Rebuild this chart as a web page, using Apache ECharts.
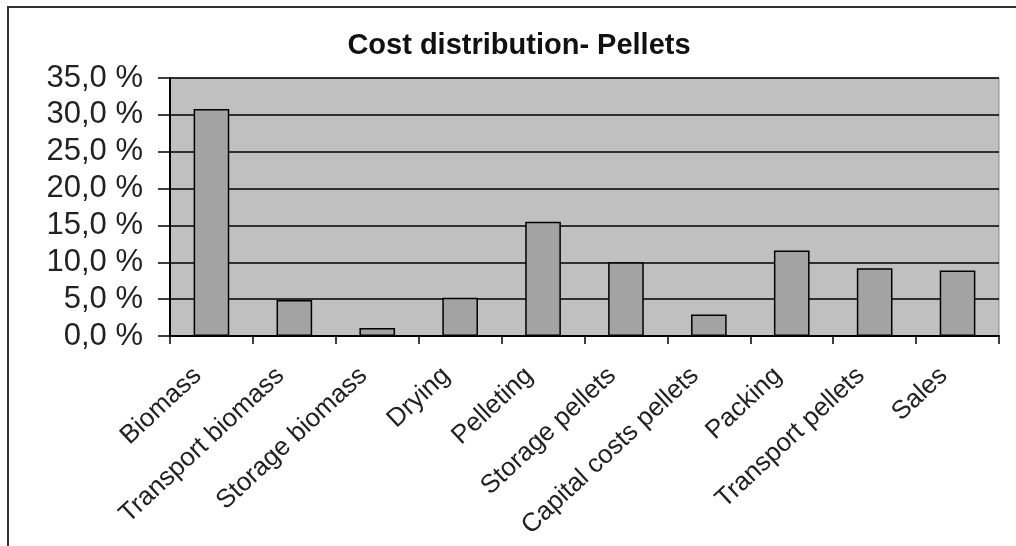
<!DOCTYPE html>
<html>
<head>
<meta charset="utf-8">
<script src="https://cdn.jsdelivr.net/npm/echarts@6/dist/echarts.min.js"></script>
<style>
  html, body { margin: 0; padding: 0; background: #fff; }
  #chart { width: 1016px; height: 546px; }
</style>
</head>
<body>
<div id="chart"></div>
<script>
// Cost shares of the pellet production chain (percent)
const categories = [
  'Biomass', 'Transport biomass', 'Storage biomass', 'Drying', 'Pelleting',
  'Storage pellets', 'Capital costs pellets', 'Packing', 'Transport pellets', 'Sales'
];
const costShare = [30.8, 4.9, 1.1, 5.2, 15.5, 10.0, 2.9, 11.6, 9.2, 8.9];
const yTicks = { min: 0, max: 35, interval: 5 };
const titleText = 'Cost distribution- Pellets';

const chart = echarts.init(document.getElementById('chart'), null, { renderer: 'canvas' });

const fmtPercent = v => v.toFixed(1).replace('.', ',') + ' %';

chart.setOption({
  animation: false,
  backgroundColor: '#ffffff',
  title: {
    text: titleText,
    left: 514,
    top: 26,
    textAlign: 'center',
    textStyle: {
      fontFamily: 'Liberation Sans',
      fontWeight: 'bold',
      fontSize: 29,
      color: '#111'
    }
  },
  graphic: [
    {
      // outer chart frame, running past the right and bottom edges
      type: 'rect',
      shape: { x: 8, y: 7, width: 1040, height: 580 },
      style: { fill: null, stroke: '#333', lineWidth: 2 },
      z: 0
    }
  ],
  grid: {
    left: 170,
    right: 17,
    top: 78,
    bottom: 210,
    show: true,
    backgroundColor: '#c0c0c0',
    borderColor: '#8a8a8a',
    borderWidth: 1
  },
  xAxis: {
    type: 'category',
    data: categories,
    boundaryGap: true,
    axisLine: { show: true, lineStyle: { color: '#000', width: 2 } },
    axisTick: { show: true, length: 8, lineStyle: { color: '#000', width: 1.5 } },
    axisLabel: {
      interval: 0,
      rotate: 43,
      margin: 23,
      padding: [0, 19, 0, 0],
      fontFamily: 'Liberation Sans',
      fontSize: 26,
      color: '#222'
    }
  },
  yAxis: {
    type: 'value',
    min: yTicks.min,
    max: yTicks.max,
    interval: yTicks.interval,
    axisLine: { show: true, lineStyle: { color: '#000', width: 2 } },
    axisTick: { show: true, inside: false, length: 12, lineStyle: { color: '#000', width: 1.5 } },
    splitLine: { show: true, lineStyle: { color: '#000', width: 1.5 } },
    axisLabel: {
      margin: 27,
      formatter: fmtPercent,
      fontFamily: 'Liberation Sans',
      fontSize: 31,
      color: '#222'
    }
  },
  series: [
    {
      type: 'bar',
      data: costShare,
      barWidth: '43%',
      itemStyle: {
        color: '#a3a3a3',
        borderColor: '#000',
        borderWidth: 1.5
      }
    }
  ]
});
</script>
</body>
</html>
